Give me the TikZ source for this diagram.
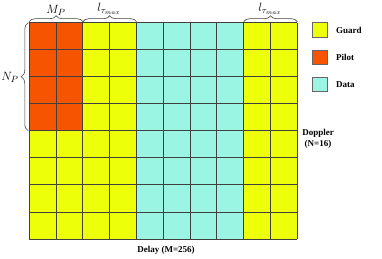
\documentclass[tikz,border=0pt]{standalone}
\usepackage{fontspec}
\setmainfont{Liberation Serif}
\usetikzlibrary{decorations.pathreplacing}
\definecolor{guardc}{HTML}{EEFF0A}
\definecolor{pilotc}{HTML}{F75400}
\definecolor{datac}{HTML}{9AF5E3}
\definecolor{linec}{HTML}{404040}
\tikzset{
  gridline/.style={draw=linec, line width=0.9pt},
  bracestyle/.style={draw=linec, line width=0.6pt, decorate, decoration={brace, amplitude=6pt}},
  legbox/.style={draw=gray!80!black, line width=0.6pt, minimum width=15pt, minimum height=14.5pt, inner sep=0pt},
  legtext/.style={font=\fontsize{9}{10}\selectfont\bfseries, anchor=west, inner sep=0pt},
  axtext/.style={font=\fontsize{9}{10.5}\selectfont\bfseries, align=center, inner sep=0pt},
  mathlab/.style={font=\fontsize{13}{14}\selectfont, inner sep=0pt}
}
\begin{document}
\begin{tikzpicture}[x=1pt,y=-1pt]
\useasboundingbox (0,0) rectangle (382,259);
\begin{scope}[shift={(29.3,22.7)}, x=26.8pt, y=-27.04pt]
  \fill[guardc] (0,0) rectangle (10,8);
  \fill[datac] (4,0) rectangle (8,8);
  \fill[pilotc] (0,0) rectangle (2,4);
  \foreach \i in {0,...,10} \draw[gridline] (\i,0) -- (\i,8);
  \foreach \j in {0,...,8} \draw[gridline] (0,\j) -- (10,\j);
  \coordinate (g00) at (0,0);
  \coordinate (g20) at (2,0);
  \coordinate (g40) at (4,0);
  \coordinate (g80) at (8,0);
  \coordinate (g100) at (10,0);
  \coordinate (g04) at (0,4);
\end{scope}
% braces
\draw[bracestyle] ([yshift=1pt]g00) -- ([yshift=1pt]g20);
\draw[bracestyle] ([yshift=1pt]g20) -- ([yshift=1pt]g40);
\draw[bracestyle] ([yshift=1pt]g80) -- ([yshift=1pt]g100);
\draw[bracestyle, decoration={brace, amplitude=7pt}] ([xshift=-1pt]g04) -- ([xshift=-1pt]g00);
% labels
\node[mathlab] (mp) at (56,10) {$M_P$};
\node[mathlab] (lt1) at (109,9) {$l_{\tau_{max}}$};
\node[mathlab] (lt2) at (270,9) {$l_{\tau_{max}}$};
\node[mathlab] (np) at (10,77) {$N_P$};
% legend
\node[legbox, fill=guardc] (lg) at (319.8,30) {};
\node[legbox, fill=pilotc] (lp) at (319.8,57.2) {};
\node[legbox, fill=datac] (ld) at (319.8,84.3) {};
\node[legtext] (tg) at (336,30) {Guard};
\node[legtext] (tp) at (336,57.2) {Pilot};
\node[legtext] (td) at (336,84.3) {Data};
% axis labels
\node[axtext] (dop) at (318,139) {Doppler\\(N=16)};
\node[axtext] (del) at (166,250) {Delay (M=256)};
\end{tikzpicture}
\end{document}
